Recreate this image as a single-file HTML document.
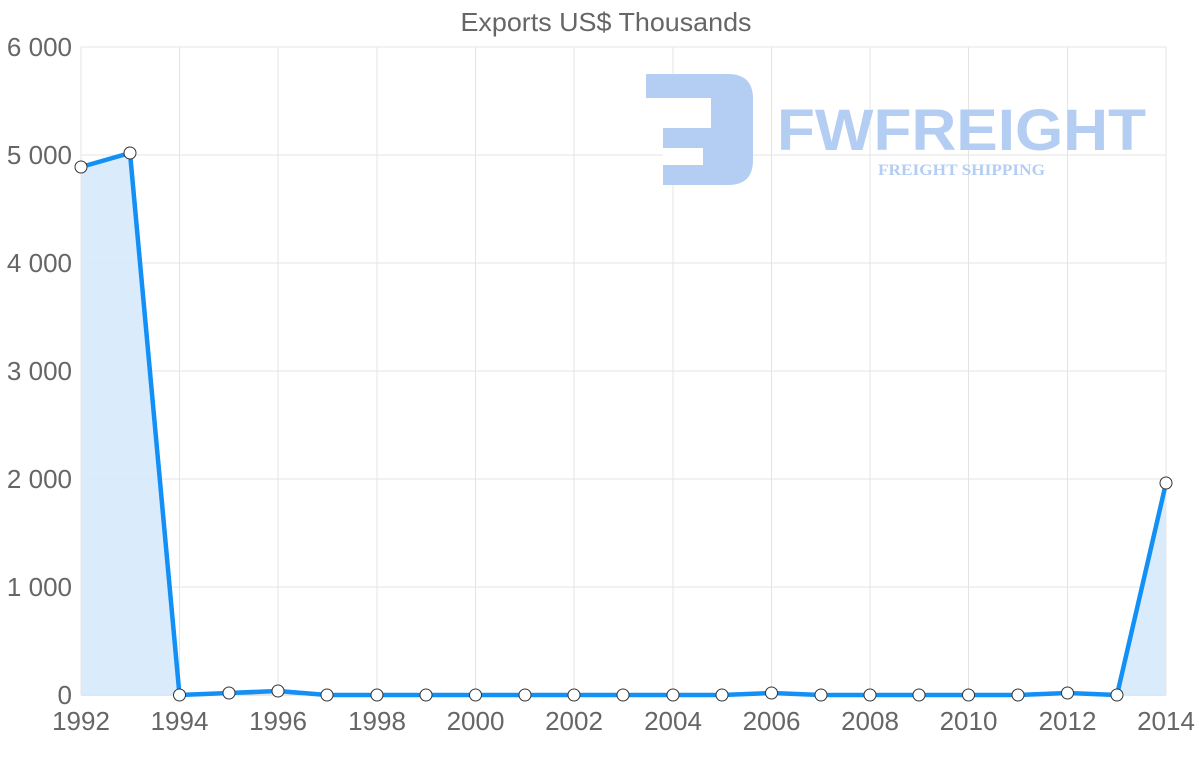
<!DOCTYPE html>
<html><head><meta charset="utf-8"><style>
html,body{margin:0;padding:0;background:#fff;}
svg{display:block;font-family:"Liberation Sans",sans-serif;}
</style></head><body>
<svg width="1200" height="763" viewBox="0 0 1200 763" xmlns="http://www.w3.org/2000/svg">
<text x="606" y="31" text-anchor="middle" font-size="26" fill="#666" textLength="291" lengthAdjust="spacingAndGlyphs">Exports US$ Thousands</text>
<g stroke="#e4e4e4" stroke-width="1">
<line x1="81" y1="47" x2="1166" y2="47"/><line x1="81" y1="155" x2="1166" y2="155"/>
<line x1="81" y1="263" x2="1166" y2="263"/><line x1="81" y1="371" x2="1166" y2="371"/>
<line x1="81" y1="479" x2="1166" y2="479"/><line x1="81" y1="587" x2="1166" y2="587"/>
<line x1="81" y1="47" x2="81" y2="695"/><line x1="179.5" y1="47" x2="179.5" y2="695"/>
<line x1="278" y1="47" x2="278" y2="695"/><line x1="377" y1="47" x2="377" y2="695"/>
<line x1="475.5" y1="47" x2="475.5" y2="695"/><line x1="574" y1="47" x2="574" y2="695"/>
<line x1="673" y1="47" x2="673" y2="695"/><line x1="771.5" y1="47" x2="771.5" y2="695"/>
<line x1="870" y1="47" x2="870" y2="695"/><line x1="968.5" y1="47" x2="968.5" y2="695"/>
<line x1="1067.5" y1="47" x2="1067.5" y2="695"/><line x1="1166" y1="47" x2="1166" y2="695"/>
</g>
<line x1="81" y1="695" x2="1166" y2="695" stroke="#ccc"/>
<g font-size="26" fill="#666" text-anchor="end">
<text x="72" y="56">6 000</text><text x="72" y="164">5 000</text><text x="72" y="272">4 000</text>
<text x="72" y="380">3 000</text><text x="72" y="488">2 000</text><text x="72" y="596">1 000</text><text x="72" y="704">0</text>
</g>
<g font-size="26" fill="#666" text-anchor="middle">
<text x="81" y="730">1992</text><text x="179.5" y="730">1994</text><text x="278" y="730">1996</text>
<text x="377" y="730">1998</text><text x="475.5" y="730">2000</text><text x="574" y="730">2002</text>
<text x="673" y="730">2004</text><text x="771.5" y="730">2006</text><text x="870" y="730">2008</text>
<text x="968.5" y="730">2010</text><text x="1067.5" y="730">2012</text><text x="1166" y="730">2014</text>
</g>
<!-- logo -->
<path d="M646 74 H728 Q753 74 753 99 V160 Q753 185 728 185 H663 V98 H646 Z" fill="#b3cdf3"/>
<rect x="663" y="98" width="48" height="30" fill="#fff"/>
<rect x="663" y="148" width="40" height="17" fill="#fff"/>
<text x="777" y="150" font-size="58" font-weight="bold" fill="#b3cdf3" textLength="369" lengthAdjust="spacingAndGlyphs">FWFREIGHT</text>
<text x="878" y="175" font-family="Liberation Serif,serif" font-size="16" font-weight="bold" fill="#b3cdf3" textLength="167" lengthAdjust="spacingAndGlyphs">FREIGHT SHIPPING</text>
<path d="M81 167 L130 153 L179.5 695 L1117 695 L1166 483 L1166 695 L81 695 Z" fill="#d6e9fb" opacity="0.9"/>
<polyline fill="none" stroke="#1390f5" stroke-width="4.5" stroke-linejoin="round" points="81,167 130,153 179.5,695 229,693 278,691 327,695 377,695 426,695 475.5,695 525,695 574,695 623,695 673,695 722,695 771.5,693 821,695 870,695 919,695 968.5,695 1018,695 1067.5,693 1117,695 1166,483"/>
<g fill="#fff" stroke="#333" stroke-width="1">
<circle cx="81" cy="167" r="6"/><circle cx="130" cy="153" r="6"/><circle cx="179.5" cy="695" r="6"/>
<circle cx="229" cy="693" r="6"/><circle cx="278" cy="691" r="6"/><circle cx="327" cy="695" r="6"/>
<circle cx="377" cy="695" r="6"/><circle cx="426" cy="695" r="6"/><circle cx="475.5" cy="695" r="6"/>
<circle cx="525" cy="695" r="6"/><circle cx="574" cy="695" r="6"/><circle cx="623" cy="695" r="6"/>
<circle cx="673" cy="695" r="6"/><circle cx="722" cy="695" r="6"/><circle cx="771.5" cy="693" r="6"/>
<circle cx="821" cy="695" r="6"/><circle cx="870" cy="695" r="6"/><circle cx="919" cy="695" r="6"/>
<circle cx="968.5" cy="695" r="6"/><circle cx="1018" cy="695" r="6"/><circle cx="1067.5" cy="693" r="6"/>
<circle cx="1117" cy="695" r="6"/><circle cx="1166" cy="483" r="6"/>
</g>
</svg>
</body></html>
